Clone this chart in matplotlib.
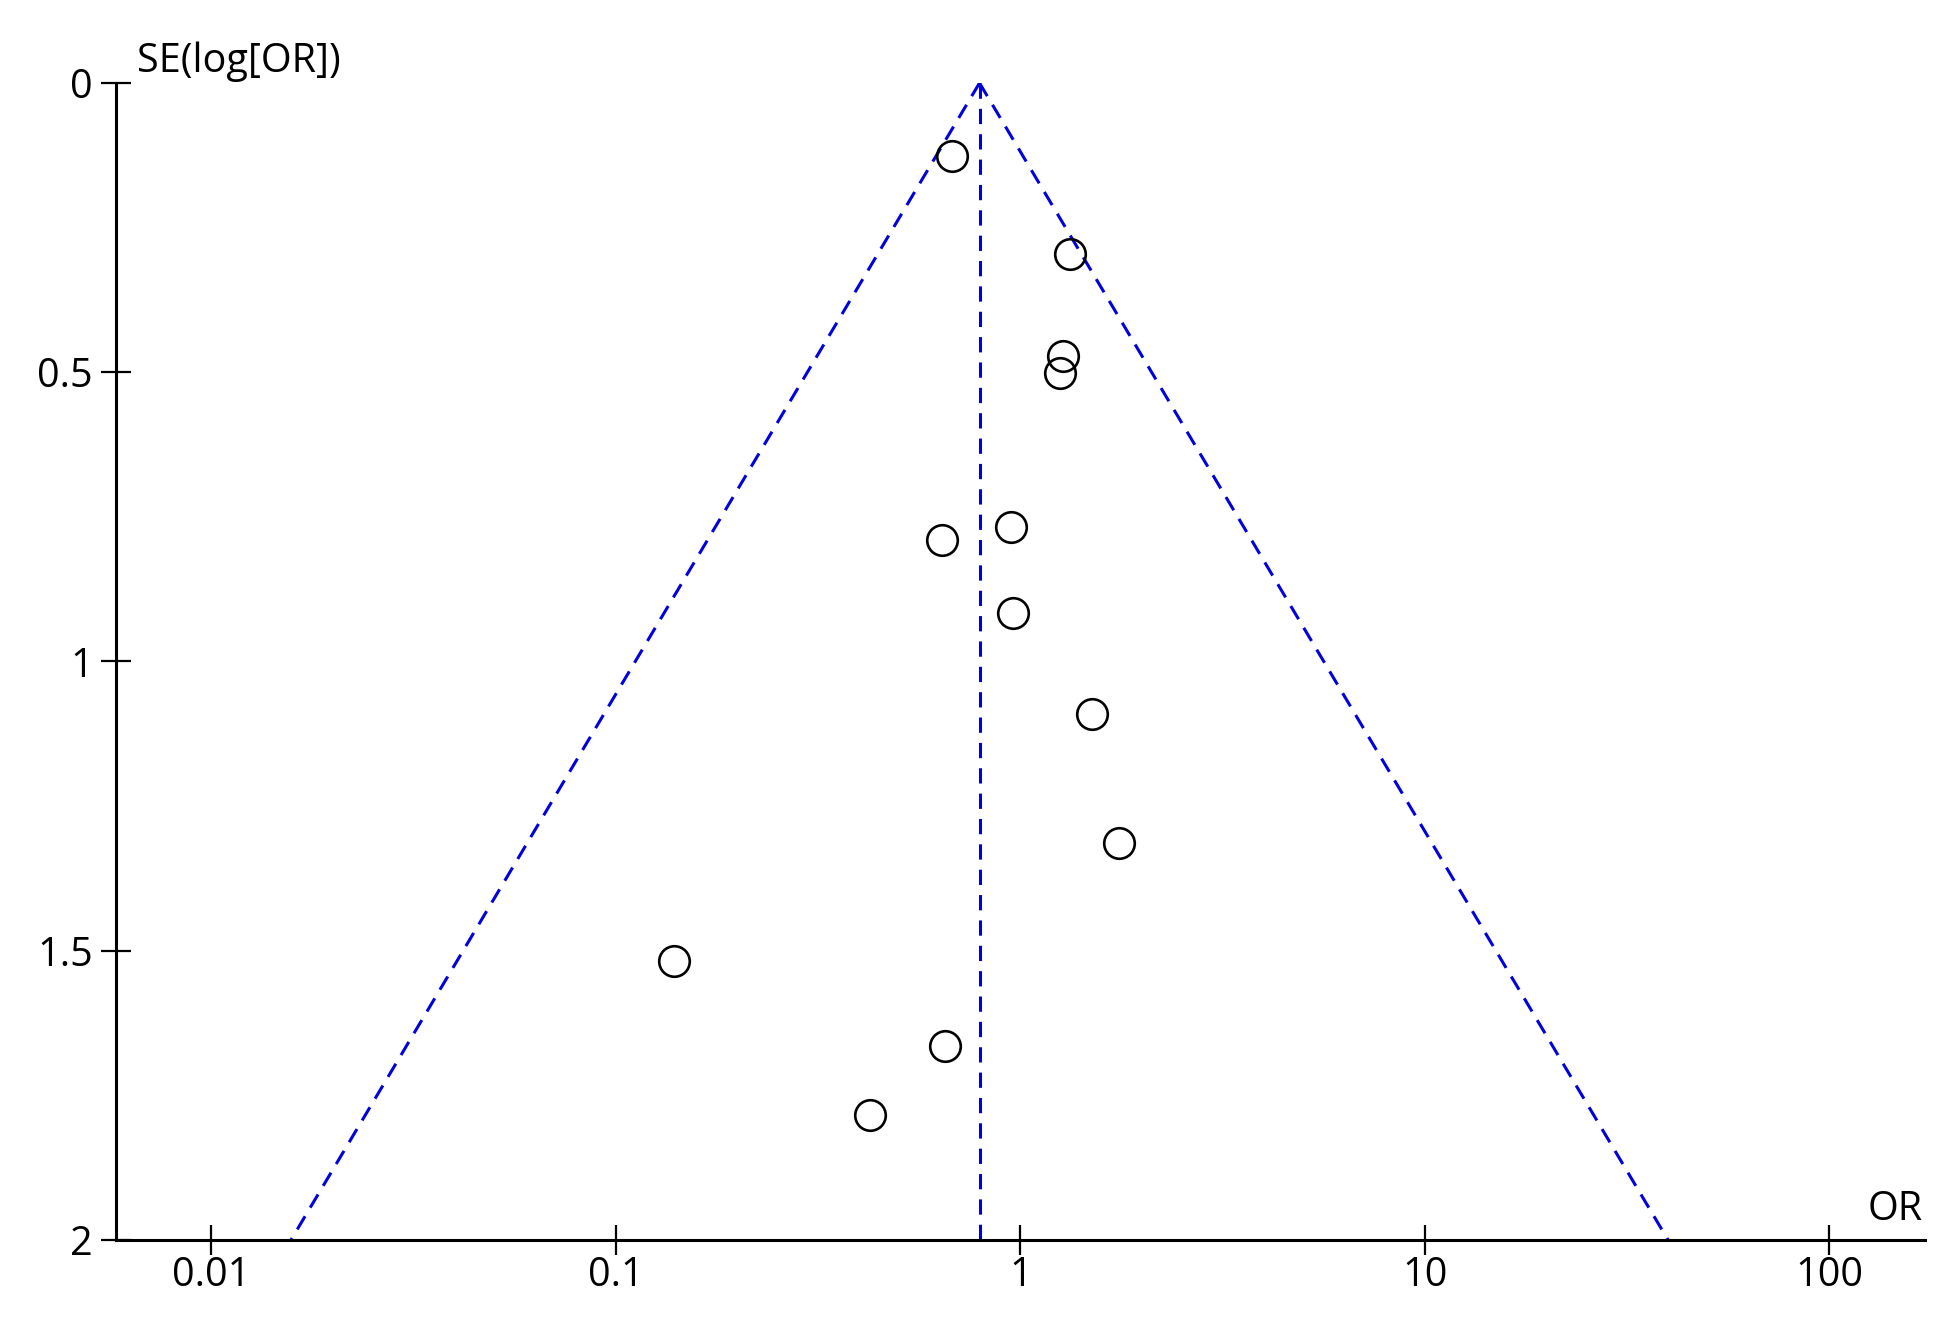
import numpy as np
import matplotlib
matplotlib.use('Agg')
import matplotlib.pyplot as plt

plt.rcParams['font.family'] = ['Open Sans', 'DejaVu Sans']

# study estimates
odds_ratio = [0.678, 1.324, 1.275, 1.256, 0.948, 0.640, 0.962, 1.507, 1.750, 0.139, 0.653, 0.424]
se_log_or = [0.126, 0.296, 0.472, 0.501, 0.768, 0.790, 0.916, 1.091, 1.313, 1.517, 1.665, 1.784]
pooled_or = 0.793

x_ticks = [0.01, 0.1, 1, 10, 100]
x_tick_labels = ['0.01', '0.1', '1', '10', '100']
y_ticks = [0, 0.5, 1, 1.5, 2]
y_tick_labels = ['0', '0.5', '1', '1.5', '2']

fig = plt.figure(figsize=(19.45, 13.28), dpi=100)
ax = fig.add_axes([0.0596, 0.0663, 0.9301, 0.8712])

blue = '#0000dd'
dash = (0, (5, 3.3))

# pseudo 95% confidence limits
se_lim = np.array([0, 2])
lo = np.exp(np.log(pooled_or) - 1.96 * se_lim)
hi = np.exp(np.log(pooled_or) + 1.96 * se_lim)
ax.plot(lo, se_lim, color=blue, lw=2.2, linestyle=dash)
ax.plot(hi, se_lim, color=blue, lw=2.2, linestyle=dash)
ax.plot([pooled_or, pooled_or], se_lim, color=blue, lw=2.2, linestyle=dash)

ax.plot(odds_ratio, se_log_or, 'o', markersize=22, markerfacecolor='none',
        markeredgecolor='black', markeredgewidth=1.9, linestyle='none')

ax.set_xscale('log')
ax.set_xlim(10 ** -2.236, 10 ** 2.237)
ax.set_ylim(2, 0)

ax.set_xticks(x_ticks)
ax.set_xticklabels(x_tick_labels)
ax.minorticks_off()
ax.set_yticks(y_ticks)
ax.set_yticklabels(y_tick_labels)

for s in ['top', 'right']:
    ax.spines[s].set_visible(False)
for s in ['left', 'bottom']:
    ax.spines[s].set_linewidth(2.2)
ax.tick_params(axis='both', direction='inout', length=21, width=1.6, labelsize=28.5)
ax.tick_params(axis='y', pad=6)
ax.tick_params(axis='x', pad=1)

fig.text(0.0704, 0.9458, 'SE(log[OR])', fontsize=28.5, ha='left', va='baseline')
fig.text(0.9887, 0.0813, 'OR', fontsize=28.5, ha='right', va='baseline')

fig.savefig('out.png', dpi=100)
